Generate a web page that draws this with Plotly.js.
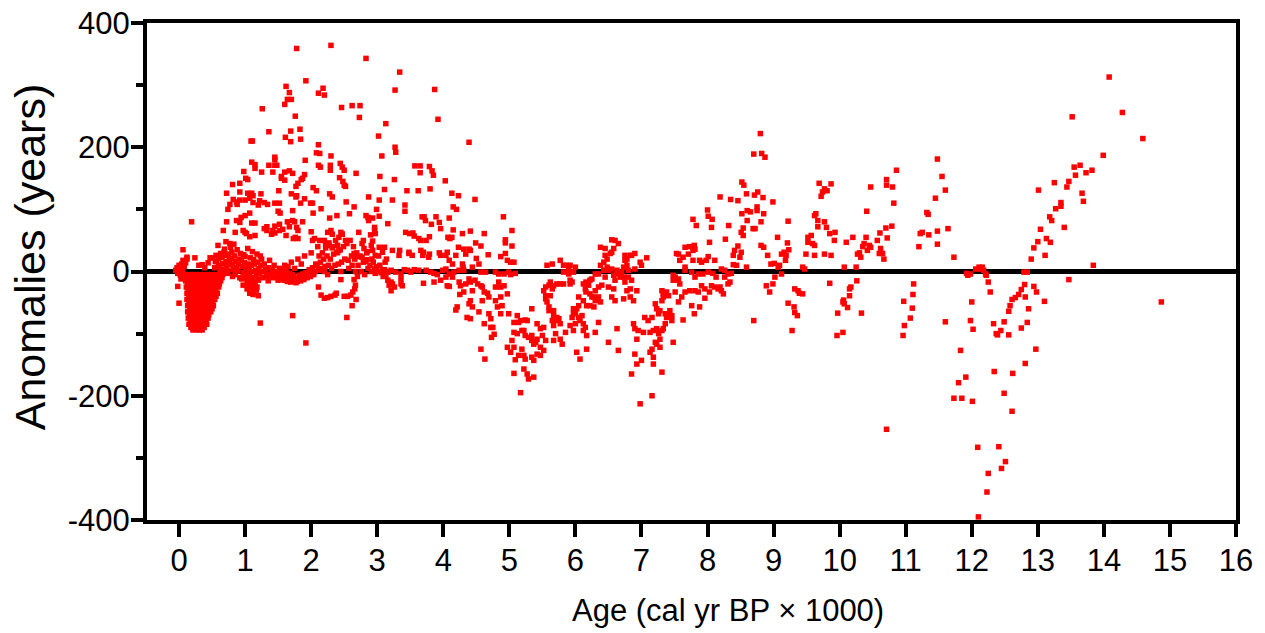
<!DOCTYPE html>
<html>
<head>
<meta charset="utf-8">
<script src="https://cdn.plot.ly/plotly-3.0.1.min.js"></script>
<style>html,body{margin:0;padding:0;background:#fff}#chart{width:1265px;height:633px}</style>
</head>
<body>
<div id="chart"></div>
<script>
// ---- axis ticks ----
const xTickValues = [0,1,2,3,4,5,6,7,8,9,10,11,12,13,14,15,16];
const xTickLabels = ['0','1','2','3','4','5','6','7','8','9','10','11','12','13','14','15','16'];
const yTickValues = [-400,-200,0,200,400];
const yTickLabels = ['-400','-200','0','200','400'];
const yMinorValues = [-300,-100,100,300];

// ---- data (age in ka, anomaly in years) ----
// youngest points near 0 ka
const recentPoints = [[-0.05,2],[-0.03,6],[-0.02,-3],[0,0],[0,10],[0.02,4],[0.02,-6],[0.04,12],[0.05,2],[0.06,18],
[0.08,8],[0.1,14],[0.12,20],[0.03,-12],[-0.02,-24],[0,-51],[0.06,35],[0.19,80],[0.12,23],[0.24,22],
[0.35,11],[0.39,6],[0.47,22],[0.51,22],[0.3,10],[0.44,14],[0.55,16],[0.6,10]];

// dense trough at 0.1-0.65 ka: anomaly level and the ages read at that level
const troughLevels = [-5,-10,-15,-20,-25,-30,-35,-40,-45,-50,-55,-60,-65,-70,-75,-80,-85,-90,-94];
const troughAges = [
 [0.08,0.14,0.2,0.26,0.32,0.38,0.44,0.5,0.56,0.62,0.66],
 [0.11,0.17,0.23,0.29,0.35,0.41,0.47,0.53,0.59,0.65],
 [0.1,0.16,0.22,0.28,0.34,0.4,0.46,0.52,0.58,0.63],
 [0.13,0.19,0.25,0.31,0.37,0.43,0.49,0.55,0.61],
 [0.11,0.17,0.23,0.29,0.35,0.41,0.47,0.53,0.6],
 [0.14,0.2,0.26,0.32,0.38,0.44,0.5,0.56],
 [0.12,0.18,0.24,0.3,0.36,0.42,0.48,0.54,0.58],
 [0.15,0.21,0.27,0.33,0.39,0.45,0.51,0.56],
 [0.12,0.18,0.24,0.3,0.36,0.42,0.48,0.54],
 [0.15,0.21,0.27,0.33,0.39,0.45,0.51],
 [0.13,0.19,0.25,0.31,0.37,0.43,0.49,0.52],
 [0.16,0.22,0.28,0.34,0.4,0.46,0.5],
 [0.13,0.19,0.25,0.31,0.37,0.43,0.48],
 [0.16,0.22,0.28,0.34,0.4,0.45],
 [0.14,0.2,0.26,0.32,0.38,0.44],
 [0.17,0.23,0.29,0.35,0.41],
 [0.15,0.21,0.27,0.33,0.39,0.42],
 [0.18,0.23,0.28,0.33,0.38],
 [0.21,0.26,0.31,0.35]
];

// dense band around zero, 0.55-3.15 ka
const bandPoints = [
[0.54,6],[0.57,16],[0.56,26],[0.61,9],[0.6,21],[0.62,1],[0.63,29],[0.66,13],[0.65,23],[0.67,4],[0.68,31],[0.71,16],[0.7,26],[0.72,8],[0.69,36],[0.73,-3],
[0.76,19],[0.75,28],[0.77,11],[0.74,1],[0.78,39],[0.79,21],[0.81,12],[0.8,31],[0.82,3],[0.83,44],[0.81,-8],[0.86,16],[0.84,25],[0.87,6],[0.85,-5],[0.88,35],
[0.9,11],[0.91,20],[0.89,1],[0.92,-10],[0.93,29],[0.96,8],[0.94,18],[0.97,-2],[0.95,-12],[0.98,27],
[1.01,5],[0.99,14],[1.02,-5],[1.03,-16],[1.0,24],[1.04,37],[1.06,3],[1.05,12],[1.07,-8],[1.04,-20],[1.08,22],[1.11,0],[1.09,10],[1.12,-10],[1.1,-26],[1.13,19],
[1.11,32],[1.16,2],[1.14,12],[1.17,-6],[1.15,-18],[1.18,28],[1.21,5],[1.19,15],[1.22,-3],[1.2,-14],[1.23,25],[1.26,0],[1.24,10],[1.27,-10],[1.25,20],
[1.31,3],[1.29,12],[1.32,-8],[1.36,6],[1.34,-4],[1.37,18],[1.35,-15],[1.41,2],[1.39,-6],[1.42,-10],[1.46,0],[1.44,10],[1.47,-8],[1.51,-3],[1.49,-10],[1.52,5],
[1.5,-14],[1.56,-5],[1.54,-12],[1.57,2],[1.61,-8],[1.59,-14],[1.62,0],[1.6,10],[1.66,-10],[1.64,-16],[1.67,-3],[1.65,8],[1.71,-12],[1.69,-17],[1.72,-5],[1.7,15],
[1.76,-14],[1.74,-8],[1.77,-18],[1.75,5],[1.81,-12],[1.79,-16],[1.82,-6],[1.8,20],[1.86,-10],[1.84,-15],[1.87,-4],[1.85,12],[1.91,-8],[1.89,-13],[1.92,-2],[1.9,25],
[1.96,-5],[1.94,-10],[1.97,3],[2.01,-3],[1.99,-8],[2.02,6],[2.0,30],[2.06,0],[2.04,-5],[2.07,12],[2.11,2],[2.09,10],[2.12,25],[2.1,40],[2.16,5],[2.14,15],
[2.17,30],[2.21,8],[2.19,20],[2.22,38],[2.2,0],[2.26,10],[2.24,25],[2.27,42],[2.25,-5],
[2.31,5],[2.29,20],[2.32,38],[2.36,10],[2.34,28],[2.37,50],[2.41,12],[2.39,30],[2.42,55],[2.46,15],[2.44,35],[2.47,60],[2.45,0],[2.51,20],[2.49,40],[2.56,18],
[2.54,45],[2.57,5],[2.61,25],[2.59,50],[2.62,10],[2.66,20],[2.64,40],[2.67,0],[2.71,10],[2.69,30],[2.76,0],[2.74,25],[2.77,45],[2.81,-5],[2.79,15],[2.86,5],
[2.84,30],[2.91,0],[2.89,10],[2.92,20],[2.96,5],[2.94,15],[2.97,-3],[3.01,0],[2.99,8],[3.02,25],[3.06,-2],[3.04,10],[3.11,3],[3.09,-8],[3.12,15],[3.16,0],[3.14,20]
];

// 0.6-2.9 ka scatter
const lateHolocenePoints = [
[0.81,140],[0.72,126],[0.87,112],[0.88,108],[0.82,116],[0.77,108],[0.74,100],[0.87,82],[0.72,80],[0.67,66],[0.85,63],[0.71,48],[0.77,45],[0.59,42],
[1.78,359],[2.30,364],[2.83,343],[1.62,298],[1.67,288],[1.92,307],[2.11,287],[2.20,284],[2.18,295],[1.64,277],[1.70,277],[1.60,269],[1.26,262],[2.46,264],[2.62,267],[2.74,267],[2.73,248],[1.76,250],
[1.36,225],[1.69,226],[1.83,229],[1.61,216],[1.69,209],[1.84,213],[1.09,210],[1.11,210],[2.11,204],[2.08,191],[2.13,190],[1.45,184],[1.45,180],[2.30,186],[1.91,179],[2.11,171],[2.14,168],[2.29,171],[2.29,163],[2.44,174],[2.47,168],[2.5,163],
[1.1,176],[1.15,172],[1.15,166],[0.98,161],[1.04,148],[1.01,150],[1.25,160],[1.36,171],[1.42,160],[1.45,171],[1.48,171],[1.55,153],[1.6,160],[1.67,162],[1.72,158],[1.6,147],[1.55,150],[1.9,156],[1.87,150],[1.85,148],[1.8,142],[1.77,137],
[2.43,151],[2.48,145],[2.5,139],[2.52,137],[2.68,158],[2.03,135],[2.08,130],[1.51,130],[0.92,142],[0.92,128],[0.92,115],[1.04,126],[1.1,126],[1.12,122],[1.24,125],[1.0,115],[1.07,118],[1.12,111],[1.22,114],[1.29,111],[1.34,108],[1.2,107],
[1.52,110],[1.70,125],[1.77,120],[1.78,122],[1.90,117],[1.84,110],[1.99,110],[2.02,110],[2.28,125],[2.32,120],[2.53,112],[2.65,104],[2.87,120],[2.15,101],[1.72,98],[1.45,110],[1.53,94],[1.5,97],[1.07,94],[1.0,90],[0.94,87],[0.92,79],[1.1,78],[1.15,78],
[2.03,94],[2.28,86],[2.39,90],[2.58,93],[2.83,90],[2.86,87],[2.87,82],[1.72,82],[1.75,80],[1.87,80],[1.64,80],[1.52,76],[1.45,73],[1.33,72],[1.29,69],[1.42,66],[1.45,62],[1.33,66],[1.4,60],[0.97,66],[1.0,63],[1.02,61],[1.07,56],[1.15,58],
[1.52,66],[1.57,68],[1.62,58],[1.67,72],[1.78,71],[1.8,66],[1.8,53],[1.76,55],[1.73,53],[2.0,64],[2.05,53],[2.13,50],[2.02,50],[2.25,63],[2.3,66],[2.32,60],[2.45,63],[2.47,60],[2.52,50],[2.2,50],[2.22,43],[2.27,46],[2.32,40],[2.4,42],[2.42,34],[2.4,31],
[2.72,63],[2.79,50],[2.8,37],[2.85,32],[2.82,18],[2.65,29],[2.67,25],[2.72,24],[2.77,23],[2.82,16],[2.84,19],
[1.0,-10],[1.04,-13],[1.07,-20],[1.1,-15],[1.15,-23],[1.18,-25],[1.2,-12],[1.03,-28],[1.12,-33],[0.97,-22],[1.07,-35],[1.12,-37],[1.17,-30],[1.2,-39],[1.72,-71],[1.23,-83],[1.92,-115],
[2.54,-74],[2.62,-55],[2.11,-25],[2.15,-38],[2.2,-43],[2.25,-42],[2.3,-40],[2.36,-38],[2.38,-35],[2.5,-40],[2.55,-40],[2.6,-38],[2.63,-33],[2.66,-28],[2.67,-22],[2.65,-13],[2.7,-8],[2.68,-45],[2.45,-13]
];

// 2.9-4.9 ka scatter
const midHolocenePoints = [
[3.34,321],[3.27,292],[3.87,293],[3.92,245],[3.13,238],[3.02,218],[4.39,208],[3.27,200],[3.28,192],[3.07,186],[3.04,153],[3.26,148],[3.57,170],[3.65,170],[3.79,169],[3.83,162],[3.85,155],[3.65,159],[4.03,146],
[3.11,132],[3.45,130],[3.62,130],[3.8,133],[4.13,126],[4.23,122],[4.48,116],[3.03,115],[3.23,115],[3.42,107],[3.42,97],[4.15,104],[4.2,100],[2.99,100],[2.93,86],[3.03,89],[3.68,88],[3.71,88],[3.89,88],[4.09,86],[3.73,82],[3.82,76],[4.91,88],
[2.96,71],[2.96,66],[2.97,61],[3.16,77],[3.96,69],[3.94,79],[4.15,67],[3.43,63],[3.49,61],[3.54,62],[3.56,57],[3.63,53],[3.66,50],[3.79,56],[3.74,50],[4.07,55],[4.13,55],[4.1,53],[4.29,61],[4.41,65],[4.62,61],
[2.9,59],[2.93,49],[2.91,42],[2.93,34],[2.97,26],[3.03,39],[3.11,39],[3.08,31],[3.23,34],[3.34,34],[3.33,26],[3.48,29],[3.53,26],[3.48,31],[3.66,34],[3.7,31],[3.69,26],[3.79,28],[3.78,23],[3.94,30],[3.96,26],[4.04,26],[4.06,31],[4.09,18],
[4.23,39],[4.31,36],[4.39,36],[4.41,34],[4.34,28],[4.49,46],[4.57,41],[4.5,21],[4.54,12],[4.68,27],[4.19,26],[4.14,12],[4.29,12],[4.3,7],
[3.08,2],[3.16,-1],[3.21,2],[3.28,-1],[3.36,-4],[3.41,3],[3.46,2],[3.51,-1],[3.56,3],[3.63,2],[3.74,2],[3.81,-1],[3.86,-3],[3.91,-5],[3.99,2],[4.04,4],[4.09,-4],[4.16,-1],[4.24,2],[4.31,2],[4.44,7],[4.57,-1],[4.64,-1],[4.79,-1],
[3.13,-6],[3.16,-14],[3.21,-17],[3.18,-22],[3.21,-31],[3.26,-25],[3.23,-20],[3.36,-12],[3.36,-20],[3.38,-23],[3.7,-19],[3.86,-17],[3.96,-14],[4.06,-23],[4.09,-24],[4.04,-9],[4.14,-9],[4.24,-17],[4.26,-23],[4.34,-20],[4.31,-33],[4.25,-37],
[4.39,-12],[4.41,-17],[4.48,-14],[4.52,-20],[4.57,-23],[4.59,-25],[4.62,-33],[4.67,-35],[4.69,-41],[4.59,-47],[4.44,-31],[4.41,-47],[4.39,-52],[4.44,-57],[4.36,-74],[4.41,-76],[4.21,-57],[4.19,-62],[4.54,-65],[4.62,-84],[4.69,-68],[4.72,-76],
[4.72,-90],[4.75,-90],[4.77,-101],[4.73,-106],[4.79,-47],[4.82,-57],[4.79,-25],[4.57,-125],[4.63,-141]
];

// 4.8-7.6 ka scatter
const minimumPoints = [
[5.04,66],[4.94,51],[4.94,46],[5.04,41],[4.87,24],[4.94,29],[4.97,18],[5.02,15],[5.07,15],[4.84,-4],[4.92,-4],[4.99,-1],[5.09,-3],[5.02,-5],[4.84,-17],[4.87,-25],[4.92,-23],[4.97,-36],[4.87,-41],[4.89,-55],[4.87,-68],[4.99,-68],
[5.12,-71],[5.14,-82],[5.07,-82],[5.17,-79],[5.22,-95],[5.07,-98],[5.12,-100],[5.04,-111],[5.07,-122],[4.97,-122],[5.02,-130],[5.14,-135],[5.09,-142],[5.24,-78],[5.27,-79],[5.19,-95],[5.24,-103],[5.29,-106],[5.34,-103],[5.34,-111],[5.37,-117],[5.40,-114],[5.42,-109],
[5.19,-125],[5.22,-135],[5.24,-141],[5.22,-157],[5.27,-165],[5.29,-173],[5.37,-170],[5.17,-195],[5.07,-164],[5.34,-60],[5.42,-84],[5.47,-92],[5.52,-90],[5.50,-103],[5.55,-111],[5.47,-122],[5.52,-127],[5.42,-133],[5.47,-135],[5.34,-138],[5.37,-143],
[5.55,-25],[5.55,-44],[5.57,-49],[5.60,-57],[5.60,-63],[5.62,-39],[5.60,-22],[5.62,-17],[5.67,-23],[5.65,-28],[5.52,-31],[5.55,-39],[5.57,10],[5.65,12],[5.77,18],[5.82,10],[5.87,10],[5.90,2],[5.90,-4],[5.82,-1],[5.92,-14],[5.92,-20],[5.95,-17],[5.82,-20],[5.77,-20],[5.72,-20],
[5.67,-63],[5.67,-71],[5.72,-74],[5.75,-76],[5.70,-79],[5.65,-79],[5.67,-87],[5.77,-84],[5.70,-100],[5.77,-109],[5.67,-111],[5.80,-117],[5.92,-87],[5.97,-95],[5.85,-98],[6.0,-84],
[5.97,-60],[5.97,-68],[5.95,-74],[6.0,-66],[6.05,-74],[6.02,-60],[6.10,-71],[6.07,-79],[6.12,-84],[6.15,-90],[6.12,-95],[6.17,-103],[6.05,-41],[6.05,-55],[6.12,-47],[6.17,-55],[6.22,-55],[6.28,-57],[6.30,-47],[6.25,-41],[6.22,-36],[6.16,-33],[6.15,-28],[6.20,-22],[6.16,-17],[6.12,-20],
[6.0,7],[5.97,-1],[5.92,10],[6.02,-130],[6.07,-141],[6.17,-125],[6.30,-98],[6.35,-82],[6.30,-31],[6.35,-25],[6.28,-41],[6.35,-41],[6.38,-49],[6.40,-22],[6.22,-14],[6.25,-12],[6.35,-4],[6.38,10],[6.43,15],[6.30,-4],
[6.38,39],[6.45,37],[6.45,26],[6.48,20],[6.53,29],[6.55,31],[6.58,37],[6.55,51],[6.60,50],[6.65,45],[6.43,2],[6.48,7],[6.50,2],[6.55,4],[6.58,-6],[6.60,-14],[6.63,2],[6.65,-4],[6.68,-9],[6.45,-9],[6.50,-25],[6.58,-28],[6.55,-41],[6.60,-47],
[6.63,-92],[6.50,-114],[6.65,-127],[6.70,-1],[6.73,7],[6.75,18],[6.78,20],[6.83,26],[6.78,10],[6.80,2],[6.85,26],[6.90,29],[6.75,26],[6.73,-9],[6.75,-17],[6.80,-9],[6.83,-28],[6.78,-31],[6.73,-44],[6.83,-41],[6.85,-14],[6.88,-47],[6.93,-31],
[6.98,15],[7.0,10],[7.08,22],[6.90,4],[6.88,-84],[6.90,-92],[6.95,-95],[6.93,-109],[6.90,-133],[6.93,-149],[6.85,-165],[7.0,-143],[7.03,-98],[6.98,-213],[7.16,-200],
[7.05,-74],[7.10,-79],[7.16,-74],[7.21,-52],[7.23,-60],[7.26,-68],[7.28,-63],[7.31,-47],[7.33,-41],[7.13,-98],[7.18,-95],[7.23,-92],[7.26,-100],[7.28,-109],[7.28,-122],[7.23,-117],[7.21,-114],[7.16,-125],[7.13,-130],[7.18,-138],[7.18,-149],[7.31,-162],
[7.31,-95],[7.33,-92],[7.36,-84],[7.38,-74],[7.36,-68],[7.41,-71],[7.43,-63],[7.46,-71],[7.46,-79],[7.31,-31],[7.33,-36],[7.38,-33],[7.41,-39],[7.51,-33],[7.53,-14],[7.48,-14],[7.48,-6],[7.51,-9],[7.53,29],[7.48,-114]
];

// 7.5-10.6 ka scatter
const earlyHolocenePoints = [
[8.80,222],[8.70,189],[8.82,190],[8.87,184],[8.52,144],[8.55,139],[8.59,125],[8.71,123],[8.76,128],[8.84,119],[8.19,120],[8.35,116],[8.46,114],[8.99,112],[8.60,98],[8.65,96],[8.52,93],[8.75,104],[8.75,98],[8.85,93],
[8.0,99],[8.01,89],[8.07,84],[7.78,84],[8.60,82],[8.81,80],[9.22,81],[7.83,74],[8.06,71],[8.32,74],[8.54,70],[8.69,69],[8.72,69],[8.51,63],[8.54,58],[8.27,52],[8.03,47],[7.66,39],[7.73,40],[7.80,42],[7.81,36],[7.78,34],
[8.46,41],[8.41,34],[8.39,26],[8.51,31],[8.81,42],[8.85,39],[9.06,55],[9.21,46],[9.23,35],[9.16,31],[9.12,28],[9.19,26],[9.18,18],[8.91,26],[8.96,12],[9.01,13],[9.07,7],[8.49,23],[8.39,11],[8.44,10],[8.59,7],
[7.56,28],[7.58,18],[7.66,7],[7.63,23],[7.71,28],[7.78,18],[7.88,18],[7.91,15],[7.98,18],[8.01,24],[8.11,18],[8.21,4],[8.26,2],[8.31,-4],[8.36,-3],[8.26,-9],[8.13,-9],[8.08,-3],[8.01,-1],[7.93,-4],[7.86,-4],[7.81,-9],[7.76,-1],[7.66,2],
[7.56,-12],[7.58,-20],[7.61,-41],[7.56,-49],[7.66,-33],[7.73,-31],[7.81,-31],[7.86,-33],[7.91,-23],[7.96,-28],[8.03,-33],[8.06,-23],[8.11,-25],[8.16,-28],[8.19,-25],[8.21,-31],[8.24,-36],[8.31,-20],[8.34,-17],
[7.76,-55],[7.88,-57],[7.96,-43],[7.63,-78],[7.80,-68],[8.70,-79],[8.89,-23],[8.94,-33],[8.99,-20],[9.02,-9],[9.09,10],[9.12,-4],[9.22,-51],[9.31,-57],[9.32,-66],[9.36,-71],[9.32,-28],[9.37,-31],[9.39,-35],[9.44,-36],[9.28,-95],
[9.44,7],[9.47,4],[9.52,55],[9.57,58],[9.59,45],[9.62,42],[9.52,47],[9.49,28],[9.62,26],[9.77,28],[9.87,26],[9.62,90],[9.64,93],[9.67,82],[9.77,80],[9.67,72],[9.80,71],[9.85,61],[9.93,63],[9.92,50],
[9.69,142],[9.77,133],[9.81,130],[9.74,128],[9.72,121],[9.87,141],[9.85,-19],[10.07,7],[10.10,47],[10.20,55],[9.97,-67],[10.05,-49],[10.07,-52],[10.17,-25],[10.15,-39],[10.15,-28],[10.06,-46],[10.12,-58],[9.96,-103],[10.05,-98],
[10.25,7],[10.26,-15],[10.33,-67],[10.27,28],[10.32,23],[10.30,30],[10.37,45],[10.35,40],[10.40,55],[10.45,42],[10.47,39],[10.42,34],[10.47,136],[10.41,97]
];

// 10.5-12.9 ka scatter
const deglacialPoints = [
[10.86,163],[10.71,148],[10.71,139],[10.80,136],[10.82,110],[11.48,181],[11.55,153],[11.60,131],[11.45,118],[11.32,95],[11.34,92],[11.22,61],[11.25,63],[11.35,59],[11.48,65],[11.64,69],[11.20,40],[11.48,44],
[10.61,62],[10.70,70],[10.79,73],[10.72,54],[10.62,37],[10.65,29],[10.60,29],[10.67,20],[10.57,50],[11.73,23],
[11.92,-3],[11.98,-4],[11.94,-6],[12.06,4],[12.11,7],[12.16,7],[12.18,2],[12.21,-4],[12.22,-6],[12.13,4],[12.25,-17],[12.28,-33],[12.0,-49],
[11.12,-20],[11.11,-37],[11.10,-59],[11.07,-75],[10.98,-87],[10.97,-48],[10.96,-103],[11.60,-81],[11.98,-79],[12.02,-93],[11.83,-127],[11.91,-170],[11.80,-179],[11.73,-204],[11.85,-204],[12.01,-209],
[10.71,-254],[12.09,-283],[12.25,-325],[12.23,-355],[12.10,-395],[12.41,-282],[12.51,-306],[12.45,-317],
[12.33,-84],[12.37,-100],[12.39,-102],[12.44,-95],[12.49,-81],[12.56,-102],[12.56,-64],[12.58,-55],[12.61,-45],[12.66,-42],[12.71,-37],[12.75,-29],[12.80,-21],[12.81,-41],[12.75,-91],
[12.34,-161],[12.62,-164],[12.49,-196],[12.61,-225],[12.81,-148],[12.79,-1]
];

// oldest points, 12.8-15 ka
const glacialPoints = [
[14.08,313],[14.28,256],[13.52,249],[14.59,214],[13.99,187],[13.55,168],[13.64,171],[13.57,155],[13.73,159],[13.82,163],[13.67,126],[13.69,113],[13.01,131],[13.25,143],[13.47,145],[13.44,136],
[13.35,111],[13.35,105],[13.27,101],[13.18,88],[13.21,82],[13.04,68],[13.40,71],[13.0,48],[13.13,53],[13.19,47],[12.94,38],[13.11,26],[12.90,20],[13.84,10],[13.47,-13],
[12.94,-24],[12.98,-33],[13.10,-48],[12.86,-60],[12.84,-82],[12.97,-125],[14.87,-49],[12.84,-1]
];

// ---- assemble one series ----
const ages = [], anomalies = [];
troughLevels.forEach((lv, i) => troughAges[i].forEach(a => { ages.push(a); anomalies.push(lv); }));
[recentPoints, bandPoints, lateHolocenePoints, midHolocenePoints, minimumPoints, earlyHolocenePoints, deglacialPoints, glacialPoints]
  .forEach(seg => seg.forEach(p => { ages.push(p[0]); anomalies.push(p[1]); }));

const FONT = '"Liberation Sans", Arial, Helvetica, sans-serif';

const trace = {
  type: 'scatter', mode: 'markers',
  x: ages, y: anomalies,
  marker: { symbol: 'square', size: 5.5, color: '#ff0000', line: { width: 0 } },
  hoverinfo: 'skip'
};

const layout = {
  width: 1265, height: 633,
  margin: { l: 147, r: 29, t: 23, b: 113 },
  paper_bgcolor: '#ffffff', plot_bgcolor: '#ffffff',
  showlegend: false,
  font: { family: FONT, color: '#000000' },
  xaxis: {
    range: [-0.485, 16],
    tickmode: 'array', tickvals: xTickValues, ticktext: xTickLabels,
    ticks: 'outside', ticklen: 13, tickwidth: 4, tickcolor: '#000000',
    showline: true, linewidth: 4, linecolor: '#000000', mirror: true,
    showgrid: false, zeroline: false,
    tickfont: { family: FONT, size: 31, color: '#000000' },
    ticklabelstandoff: -3
  },
  yaxis: {
    range: [-400, 400],
    tickmode: 'array', tickvals: yTickValues, ticktext: yTickLabels,
    ticks: 'outside', ticklen: 12, tickwidth: 4, tickcolor: '#000000',
    minor: { tickmode: 'array', tickvals: yMinorValues, ticks: 'outside', ticklen: 7, tickwidth: 4, tickcolor: '#000000', showgrid: false },
    showline: true, linewidth: 4, linecolor: '#000000', mirror: true,
    showgrid: false,
    zeroline: true, zerolinecolor: '#000000', zerolinewidth: 5,
    tickfont: { family: FONT, size: 31, color: '#000000' },
    ticklabelstandoff: -5
  },
  annotations: [
    { text: 'Age (cal yr BP × 1000)', xref: 'paper', yref: 'paper', x: 0.5335, y: -0.182,
      xanchor: 'center', yanchor: 'middle', showarrow: false, font: { family: FONT, size: 31, color: '#000000' } },
    { text: 'Anomalies (years)', xref: 'paper', yref: 'paper', x: -0.1074, y: 0.5287, textangle: -90,
      xanchor: 'center', yanchor: 'middle', showarrow: false, font: { family: FONT, size: 43, color: '#000000' } }
  ]
};

Plotly.newPlot('chart', [trace], layout, { staticPlot: true, displayModeBar: false });
</script>
</body>
</html>
